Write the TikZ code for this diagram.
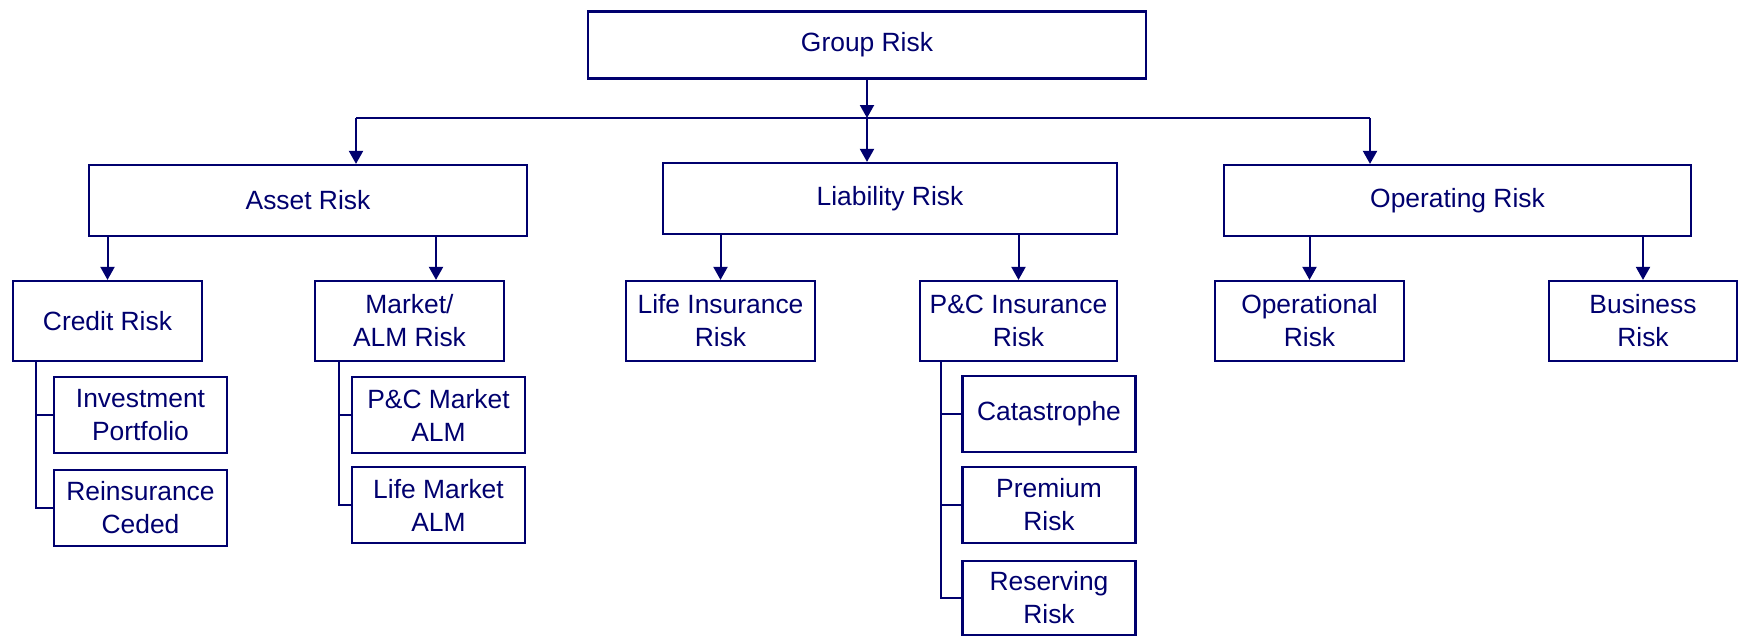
\documentclass[tikz,border=0pt]{standalone}
\usepackage{fontspec}
\setmainfont{Liberation Sans}
\usetikzlibrary{arrows.meta}
\definecolor{RiskClr}{rgb}{0,0,0.43}

\begin{document}
\begin{tikzpicture}[x=0.5pt,y=-0.5pt,
  box/.style={draw=RiskClr,line width=1.1pt,text=RiskClr,inner sep=0pt,align=center,
    font=\fontsize{13.2}{16.5}\selectfont},
  topbox/.style={box,minimum height=35.5pt},
  midbox/.style={box,minimum width=94.5pt,minimum height=40pt},
  subbox/.style={box,minimum width=86.5pt,minimum height=38pt},
  link/.style={draw=RiskClr,line width=1pt},
  arr/.style={link,-{Triangle[length=6.5pt,width=7pt]}}]
\useasboundingbox (0,0) rectangle (1739,637);

% top
\node[box,minimum width=279pt,minimum height=33.5pt] (G) at (867,45) {Group Risk};

% first level
\node[topbox,minimum width=219pt] (AR) at (308,200.5) {Asset Risk};
\node[topbox,minimum width=227pt] (LR) at (890,198.5) {Liability Risk};
\node[topbox,minimum width=233.5pt] (OR) at (1457.5,200.5) {Operating Risk};

% second level
\node[midbox] (CR) at (107.5,321) {Credit Risk};
\node[midbox] (MR) at (409.5,321) {Market/\\ALM Risk};
\node[midbox] (LI) at (720.5,321) {Life Insurance\\Risk};
\node[midbox,minimum width=98.5pt] (PI) at (1018.5,321) {P\&C Insurance\\Risk};
\node[midbox] (OP) at (1309.5,321) {Operational\\Risk};
\node[midbox,minimum width=94pt] (BR) at (1643,321) {Business\\Risk};

% third level
\node[subbox] (IP) at (140.5,415) {Investment\\Portfolio};
\node[subbox] (RC) at (140.5,508) {Reinsurance\\Ceded};
\node[subbox] (PM) at (438.5,415) {P\&C Market\\ALM};
\node[subbox] (LM) at (438.5,505) {Life Market\\ALM};
\node[subbox] (CA) at (1049,414) {Catastrophe};
\node[subbox] (PR) at (1049,505) {Premium\\Risk};
\node[subbox,minimum height=37pt] (RR) at (1049,598) {Reserving\\Risk};

% bus under Group Risk
\coordinate (busL) at (356,118);
\coordinate (busR) at (1370,118);
\draw[arr] (G.south) -- (G.south |- busL);
\draw[link] (busL) -- (busR);
\draw[arr] (busL) -- (busL |- AR.north);
\draw[arr] (G.south |- busL) -- (G.south |- LR.north);
\draw[arr] (busR) -- (busR |- OR.north);

% first to second level
\coordinate (mA) at (436,0);
\draw[arr] (CR.north |- AR.south) -- (CR.north);
\draw[arr] (mA |- AR.south) -- (mA |- MR.north);
\draw[arr] (LI.north |- LR.south) -- (LI.north);
\draw[arr] (PI.north |- LR.south) -- (PI.north);
\draw[arr] (OP.north |- OR.south) -- (OP.north);
\draw[arr] (BR.north |- OR.south) -- (BR.north);

% trunks to third level
\coordinate (cT) at (36,0);
\coordinate (mT) at (339,0);
\coordinate (pT) at (941,0);
\draw[link] (cT |- CR.south) |- (RC.west);
\draw[link] (cT |- IP.west) -- (IP.west);
\draw[link] (mT |- MR.south) |- (LM.west);
\draw[link] (mT |- PM.west) -- (PM.west);
\draw[link] (pT |- PI.south) |- (RR.west);
\draw[link] (pT |- CA.west) -- (CA.west);
\draw[link] (pT |- PR.west) -- (PR.west);

\end{tikzpicture}
\end{document}
